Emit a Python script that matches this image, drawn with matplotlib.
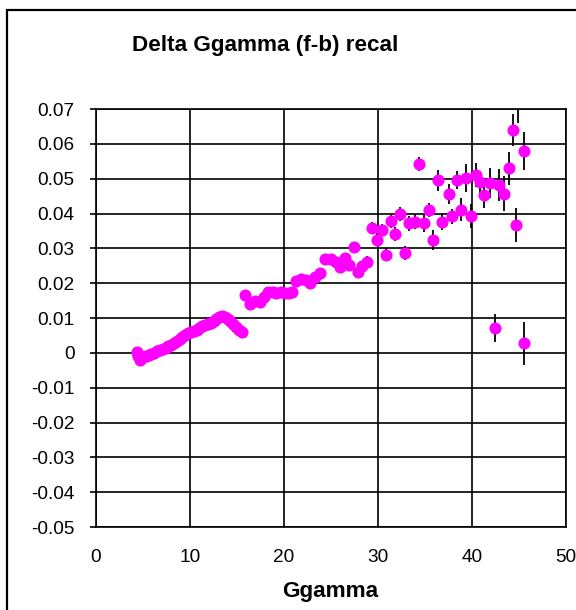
import numpy as np
import matplotlib.pyplot as plt
from matplotlib.patches import Rectangle

plt.rcParams['font.family'] = ['Liberation Sans', 'DejaVu Sans']

# Ggamma vs delta (f-b) after recalibration
ggamma = [4.4, 4.5, 4.7, 5.0, 5.3, 5.6, 5.9, 6.2, 6.5, 6.8, 7.1, 7.4, 7.7, 8.0,
          8.3, 8.6, 8.9, 9.2, 9.5, 9.8, 10.1, 10.4, 10.7, 11.0, 11.3, 11.6,
          11.9, 12.2, 12.5, 12.8, 13.1, 13.4, 13.7, 14.0, 14.3, 14.6, 14.9,
          15.2, 15.5,
          15.85, 16.4, 16.9, 17.4, 17.9, 18.3, 18.8, 19.2, 19.7, 20.1, 20.5,
          20.8, 21.3, 21.8, 22.3, 22.8, 23.3, 23.8, 24.4, 25.0, 25.5, 26.0,
          26.5, 26.9, 27.4, 27.9, 28.3, 28.8, 29.4, 29.9, 30.4, 30.9, 31.4,
          31.8, 32.3, 32.9, 33.3, 33.9, 34.4, 34.9, 35.4, 35.9, 36.4, 36.8,
          37.5, 37.9, 38.4, 38.8, 39.4, 39.9, 40.4, 40.8, 41.3, 41.9, 42.4,
          42.9, 43.4, 43.9, 44.4, 44.7, 44.9, 45.5, 45.5]
delta = [0.0003, -0.0008, -0.0022, -0.0012, -0.0010, -0.0007, -0.0004, 0.0000,
         0.0004, 0.0008, 0.0011, 0.0015, 0.0019, 0.0023, 0.0028, 0.0033,
         0.0039, 0.0045, 0.0051, 0.0057, 0.0060, 0.0062, 0.0066, 0.0071,
         0.0076, 0.0080, 0.0084, 0.0087, 0.0091, 0.0096, 0.0102, 0.0106,
         0.0103, 0.0098, 0.0091, 0.0082, 0.0073, 0.0065, 0.0060,
         0.0165, 0.0140, 0.0148, 0.0147, 0.0160, 0.0176, 0.0175, 0.0172,
         0.0176, 0.0172, 0.0171, 0.0176, 0.0205, 0.0212, 0.0210, 0.0200,
         0.0218, 0.0228, 0.0268, 0.0268, 0.0262, 0.0245, 0.0272, 0.0252,
         0.0303, 0.0233, 0.0250, 0.0262, 0.0358, 0.0325, 0.0353, 0.0282,
         0.0378, 0.0342, 0.0398, 0.0287, 0.0372, 0.0377, 0.0541, 0.0372,
         0.0411, 0.0324, 0.0495, 0.0377, 0.0456, 0.0392, 0.0495, 0.0411,
         0.0503, 0.0392, 0.0510, 0.0490, 0.0452, 0.0487, 0.0072, 0.0482,
         0.0457, 0.0530, 0.0640, 0.0367, 0.0745, 0.0580, 0.0027]
delta_err = [0.0003, 0.0003, 0.0003, 0.0003, 0.0003, 0.0003, 0.0003, 0.0003,
             0.0003, 0.0003, 0.0003, 0.0003, 0.0004, 0.0004, 0.0004, 0.0004,
             0.0004, 0.0004, 0.0004, 0.0004, 0.0005, 0.0005, 0.0005, 0.0005,
             0.0005, 0.0005, 0.0005, 0.0005, 0.0006, 0.0006, 0.0006, 0.0006,
             0.0006, 0.0006, 0.0006, 0.0006, 0.0007, 0.0007, 0.0007,
             0.0007, 0.0007, 0.0007, 0.0008, 0.0008, 0.0008, 0.0008, 0.0009,
             0.0009, 0.0009, 0.0009, 0.0010, 0.0010, 0.0010, 0.0011, 0.0011,
             0.0011, 0.0012, 0.0012, 0.0012, 0.0013, 0.0013, 0.0013, 0.0014,
             0.0014, 0.0015, 0.0015, 0.0017, 0.0017, 0.0018, 0.0018, 0.0019,
             0.0019, 0.0020, 0.0020, 0.0021, 0.0021, 0.0022, 0.0020, 0.0024,
             0.0020, 0.0029, 0.0029, 0.0025, 0.0030, 0.0021, 0.0026, 0.0033,
             0.0040, 0.0034, 0.0035, 0.0030, 0.0035, 0.0043, 0.0040, 0.0045,
             0.0050, 0.0047, 0.0045, 0.0048, 0.0085, 0.0054, 0.0062]

fig = plt.figure(figsize=(5.76, 6.10), dpi=100)
fig.patch.set_facecolor('white')

# chart area frame (runs off the right and bottom edges)
fig.patches.append(Rectangle((7 / 576, -0.05), 1.2, 1.05 - 10 / 610,
                             transform=fig.transFigure, fill=False,
                             edgecolor='black', linewidth=1.6))

ax = fig.add_axes([96 / 576, 1 - 527 / 610, 470 / 576, 418 / 610])
ax.errorbar(ggamma, delta, yerr=delta_err, fmt='none', ecolor='black',
            elinewidth=1.3, capsize=0, zorder=2)
ax.plot(ggamma, delta, 'o', color='#FF00FF', markersize=8.7,
        markeredgewidth=0, zorder=3)

ax.set_xlim(0, 50)
ax.set_ylim(-0.05, 0.07)
ax.set_xticks(np.arange(0, 51, 10))
ax.set_yticks(np.round(np.arange(-0.05, 0.0701, 0.01), 2))
ax.set_yticklabels(['-0.05', '-0.04', '-0.03', '-0.02', '-0.01', '0',
                    '0.01', '0.02', '0.03', '0.04', '0.05', '0.06', '0.07'])
ax.grid(True, color='black', linewidth=1.2)
ax.set_axisbelow(True)
for sp in ax.spines.values():
    sp.set_linewidth(1.2)
ax.tick_params(axis='y', direction='out', length=4.5, width=1.2,
               labelsize=13.7, pad=11)
ax.tick_params(axis='x', direction='out', length=0, labelsize=13.7, pad=16)

fig.text(265 / 576, 1 - 45 / 610, 'Delta Ggamma (f-b) recal', ha='center',
         va='center', fontsize=16.2, fontweight='bold')
fig.text(330 / 576, 1 - 592 / 610, 'Ggamma', ha='center', va='center',
         fontsize=16.2, fontweight='bold')

fig.savefig('out.png', dpi=100)
